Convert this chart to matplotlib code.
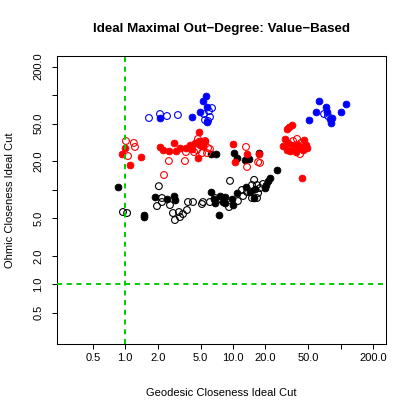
import matplotlib
matplotlib.use("Agg")
import matplotlib.pyplot as plt

plt.rcParams['font.family'] = ['Liberation Sans', 'DejaVu Sans']

# Blue group
blue_fill_x = [2.10, 4.16, 4.94, 5.26, 5.61, 5.74, 5.74, 62.9, 50.8, 59.0, 73.0, 74.6, 101, 112, 79.6, 81.3, 83.0]
blue_fill_y = [57.3, 58.6, 66.2, 86.5, 97.8, 74.9, 52.0, 86.7, 54.5, 66.2, 74.9, 66.2, 66.2, 80.5, 55.8, 50.7, 57.3]
blue_open_x = [1.66, 2.10, 2.44, 3.08, 6.38, 5.98, 6.11, 5.50, 5.86, 5.38, 76.2, 70.0]
blue_open_y = [57.3, 63.1, 60.1, 61.6, 72.9, 67.7, 58.6, 54.5, 53.2, 63.1, 60.1, 63.1]

# Red group
red_fill_x = [1.0, 0.93, 1.40, 1.11, 2.10, 2.24, 2.54, 2.83, 2.96, 3.22,
              3.66, 3.99, 4.44, 4.83, 4.83, 4.94, 4.73, 5.50, 5.26, 4.16,
              10.0, 13.5, 10.4, 17.4,
              33.1, 35.3, 31.8, 30.4, 29.1, 31.8, 33.8, 36.1, 37.6, 40.1,
              41.9, 45.6, 47.6, 48.6, 44.7, 43.7, 32.4, 38.4]
red_fill_y = [27.6, 23.8, 22.2, 18.2, 28.3, 26.3, 25.7, 31.2, 25.7, 27.6,
              27.6, 29.7, 31.2, 32.7, 40.7, 29.7, 21.6, 32.7, 29.0, 26.9,
              30.4, 23.8, 19.6, 23.8,
              46.0, 48.3, 43.8, 34.4, 29.0, 26.3, 25.7, 29.7, 27.6, 29.7,
              27.6, 33.5, 29.7, 27.6, 26.3, 13.3, 31.2, 25.0]
red_open_x = [1.015, 1.20, 1.23, 1.06, 2.29, 2.54, 3.58, 3.66, 4.35, 4.63, 5.15, 5.86, 5.74, 4.73, 4.94, 6.11, 5.50,
              13.2, 13.5, 17.1, 17.8, 39.3, 42.8, 41.9, 36.1, 43.7]
red_open_y = [32.7, 31.2, 28.3, 22.7, 14.3, 20.1, 20.1, 25.0, 25.0, 26.3, 24.4, 27.6, 24.4, 34.4, 31.2, 26.9, 32.7,
              28.3, 17.4, 19.6, 19.2, 34.4, 31.2, 23.8, 32.7, 27.6]

# Black group
black_fill_x = [0.855, 1.49, 1.49, 1.89, 2.44, 2.83, 2.89, 6.25, 6.66, 6.81, 7.41,
                7.57, 8.43, 8.43, 9.79, 10.0, 10.9, 13.2, 14.4, 15.7, 16.0,
                19.8, 21.1, 22.0, 25.6, 20.2, 8.07,
                6.25, 6.95, 10.2, 10.9, 12.9, 14.1, 17.4]
black_fill_y = [10.7, 5.14, 5.35, 8.37, 7.97, 8.58, 7.78, 9.46, 7.97, 7.23, 5.40,
                8.58, 8.37, 7.23, 7.97, 6.89, 9.23, 10.7, 9.46, 8.17, 10.2,
                10.4, 12.4, 13.3, 16.2, 11.2, 7.41,
                23.8, 23.8, 24.4, 21.6, 20.6, 21.1, 24.4]
black_open_x = [0.952, 1.04, 2.05, 2.19, 2.19, 1.97, 2.60, 2.77, 3.15, 3.74, 2.89, 3.22, 3.43, 3.82, 4.25, 5.15, 5.26,
                6.11, 6.81, 7.90, 9.38, 9.18, 11.1, 12.1, 12.4, 13.5, 15.0, 15.7, 16.7, 17.8, 19.0, 17.1, 15.0, 16.7]
black_open_y = [5.81, 5.67, 10.9, 8.17, 7.41, 6.72, 6.89, 5.67, 5.81, 6.10, 4.78, 5.14, 5.53, 7.41, 7.41, 7.06, 7.41,
                7.41, 8.17, 7.78, 12.4, 6.56, 7.59, 9.93, 8.58, 9.46, 11.2, 12.7, 11.2, 10.4, 11.5, 9.23, 8.17, 8.17]

x_ticks = [0.5, 1, 2, 5, 10, 20, 50, 100, 200]
x_labels = ['0.5', '1.0', '2.0', '5.0', '10.0', '20.0', '50.0', '', '200.0']
y_ticks = [0.5, 1, 2, 5, 10, 20, 50, 100, 200]
y_labels = ['0.5', '1.0', '2.0', '5.0', '', '20.0', '50.0', '', '200.0']

fig = plt.figure(figsize=(4.15, 4.15), dpi=100)
ax = fig.add_axes([56.7 / 415, 1 - 344 / 415, (386 - 56.7) / 415, (344 - 56) / 415])
ax.set_xscale('log')
ax.set_yscale('log')

ms = 24
for xs, ys, col in [(black_fill_x, black_fill_y, 'black'), (red_fill_x, red_fill_y, 'red'),
                    (blue_fill_x, blue_fill_y, 'blue')]:
    ax.scatter(xs, ys, s=ms, c=col, edgecolors=col, linewidths=0.6, zorder=3)
for xs, ys, col in [(black_open_x, black_open_y, 'black'), (red_open_x, red_open_y, 'red'),
                    (blue_open_x, blue_open_y, 'blue')]:
    ax.scatter(xs, ys, s=ms, facecolors='none', edgecolors=col, linewidths=0.8, zorder=3)

ax.axvline(1, color='#00CD00', lw=1.4, ls=(0, (2.6, 2.4)), zorder=4)
ax.axhline(1, color='#00CD00', lw=1.4, ls=(0, (2.6, 2.4)), zorder=4)

ax.set_xlim(0.231, 263)
ax.set_ylim(0.234, 259)
ax.set_xticks(x_ticks)
ax.set_xticklabels(x_labels)
ax.set_yticks(y_ticks)
ax.set_yticklabels(y_labels, rotation=90, va='center')
ax.minorticks_off()
ax.tick_params(direction='out', length=3.6, width=0.75, labelsize=8, color='black')
ax.tick_params(axis='x', pad=3)
ax.tick_params(axis='y', pad=6)
for sp in ax.spines.values():
    sp.set_linewidth(0.75)

ax.set_xlabel('Geodesic Closeness Ideal Cut', fontsize=8, labelpad=18)
ax.set_ylabel('Ohmic Closeness Ideal Cut', fontsize=8, labelpad=13)
ax.set_title('Ideal Maximal Out\u2212Degree: Value\u2212Based',
             fontsize=9.6, fontweight='bold', pad=17)

fig.savefig('out.png', dpi=100)
